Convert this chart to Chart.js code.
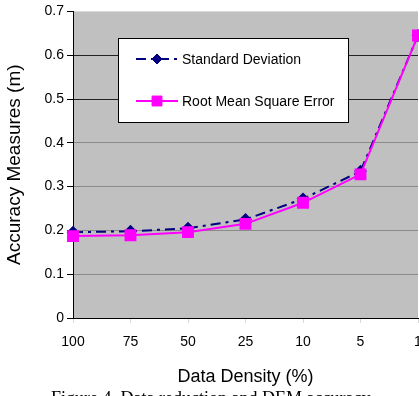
<!DOCTYPE html>
<html lang="en">
  <head>
    <title>Data reduction and DEM accuracy</title>
    <meta charset="utf-8">
    <script src="https://cdn.jsdelivr.net/npm/chart.js@4/dist/chart.umd.min.js"></script>
    <style>
      html, body { margin: 0; padding: 0; background: #fff; overflow: hidden; width: 419px; height: 396px; }
      #wrap { position: absolute; left: 0; top: 0; width: 440px; height: 396px; }
      #caption { position: absolute; left: 51px; top: 388px; white-space: nowrap;
                 font-family: "Liberation Serif", "Times New Roman", serif; font-size: 18px; color: #000; }
    </style>
  </head>
  <body>
    <div id="wrap"><canvas id="chart_acc" width="440" height="396"></canvas></div>
    <div id="caption">Figure 4. Data reduction and DEM accuracy</div>

    <script>
      // data
      const density = ["100", "75", "50", "25", "10", "5", "1"];
      const stdDev  = [0.196, 0.198, 0.205, 0.225, 0.272, 0.335, 0.645];
      const rmse    = [0.187, 0.189, 0.196, 0.215, 0.263, 0.328, 0.645];
      const yTicks  = [0, 0.1, 0.2, 0.3, 0.4, 0.5, 0.6, 0.7];

      const FONT = '"Liberation Sans", Arial, sans-serif';
      Chart.defaults.font.family = FONT;
      Chart.defaults.color = "#000";

      // grey plot area like the old spreadsheet chart
      const plotBg = {
        id: "plotBg",
        beforeDraw(chart) {
          const {ctx, chartArea: a} = chart;
          ctx.save();
          ctx.fillStyle = "#c0c0c0";
          ctx.fillRect(a.left, a.top, a.right - a.left, a.bottom - a.top);
          ctx.restore();
        }
      };

      // legend box sits inside the plot, drawn by hand
      const boxLegend = {
        id: "boxLegend",
        afterDraw(chart) {
          const ctx = chart.ctx;
          const bx = 118.5, by = 38.5, bw = 230, bh = 84;
          ctx.save();
          ctx.fillStyle = "#fff";
          ctx.strokeStyle = "#000";
          ctx.lineWidth = 1;
          ctx.fillRect(bx, by, bw, bh);
          ctx.strokeRect(bx, by, bw, bh);

          const rows = [chart.data.datasets[0], chart.data.datasets[1]];
          const ys = [59, 101];
          rows.forEach((ds, i) => {
            const y = ys[i];
            ctx.strokeStyle = ds.borderColor;
            ctx.lineWidth = 2;
            ctx.setLineDash(ds.borderDash || []);
            ctx.beginPath();
            ctx.moveTo(136, y);
            ctx.lineTo(178, y);
            ctx.stroke();
            ctx.setLineDash([]);
            ctx.fillStyle = ds.pointBackgroundColor;
            ctx.strokeStyle = ds.pointBorderColor;
            ctx.lineWidth = 1;
            Chart.helpers.drawPoint(ctx, {
              pointStyle: ds.pointStyle,
              radius: ds.pointRadius,
              borderWidth: 1
            }, 157, y);
            ctx.fillStyle = "#000";
            ctx.font = "14px " + FONT;
            ctx.textBaseline = "middle";
            ctx.textAlign = "left";
            ctx.fillText(ds.label, 182, y + 1);
          });
          ctx.restore();
        }
      };

      const tenth = v => Math.round(v * 10);

      new Chart("chart_acc", {
        type: "line",
        data: {
          labels: density,
          datasets: [
            {
              label: "Standard Deviation",
              data: stdDev,
              order: 1,
              borderColor: "#000080",
              borderWidth: 2,
              borderDash: [10, 5, 3, 5],
              pointStyle: "rectRot",
              pointRadius: 5,
              pointBackgroundColor: "#000080",
              pointBorderColor: "#000080",
              tension: 0
            },
            {
              label: "Root Mean Square Error",
              data: rmse,
              order: 0,
              borderColor: "#ff00ff",
              borderWidth: 2,
              pointStyle: "rect",
              pointRadius: 7,
              pointBackgroundColor: "#ff00ff",
              pointBorderColor: "#ff00ff",
              tension: 0
            }
          ]
        },
        options: {
          responsive: false,
          animation: false,
          events: [],
          layout: { padding: { top: 11, right: 22, bottom: 0, left: 0 } },
          plugins: { legend: { display: false }, tooltip: { enabled: false } },
          scales: {
            x: {
              offset: false,
              afterFit(s) { s.height = 78; },
              grid: { drawOnChartArea: false, tickLength: 5, tickColor: "#d8d8d8" },
              border: { color: "#000", width: 1 },
              ticks: { font: { size: 14 }, padding: 11, maxRotation: 0, autoSkip: false },
              title: { display: true, text: "Data Density (%)", font: { size: 18 },
                       padding: { top: 0, bottom: 8 } }
            },
            y: {
              min: 0,
              max: 0.7,
              afterFit(s) { s.width = 73; },
              afterBuildTicks(s) { s.ticks = yTicks.map(v => ({ value: v })); },
              grid: {
                tickLength: 6,
                tickColor: "#000",
                color(c) {
                  const t = tenth(c.tick.value);
                  if (t === 7) return "rgba(0,0,0,0)";
                  if (t === 5 || t === 6) return "#222";
                  return "#8a8a8a";
                }
              },
              border: { color: "#000", width: 1 },
              ticks: { font: { size: 14 }, padding: 3, callback: v => String(tenth(v) / 10) },
              title: { display: true, text: "Accuracy Measures (m)", font: { size: 19 },
                       padding: { top: 3, bottom: 0 } }
            }
          }
        },
        plugins: [plotBg, boxLegend]
      });
    </script>
  </body>
</html>
